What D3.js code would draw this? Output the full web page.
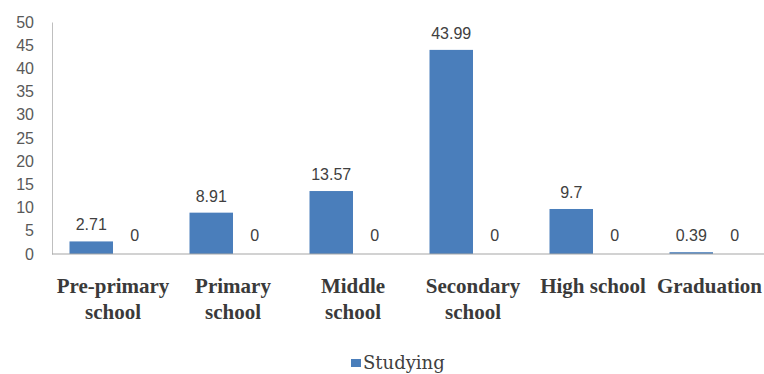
<!DOCTYPE html>
<html><head><meta charset="utf-8">
<script src="https://cdn.jsdelivr.net/npm/d3@7"></script>
<style>html,body{margin:0;padding:0;background:#fff;overflow:hidden}</style>
</head><body>
<svg id="chart" width="764" height="374"></svg>
<script>
const categories = ["Pre-primary school","Primary school","Middle school","Secondary school","High school","Graduation"];
const categoryLines = [["Pre-primary","school"],["Primary","school"],["Middle","school"],["Secondary","school"],["High school"],["Graduation"]];
const studying = [2.71, 8.91, 13.57, 43.99, 9.7, 0.39];
const second = [0, 0, 0, 0, 0, 0];
const yTicks = [0,5,10,15,20,25,30,35,40,45,50];
const seriesNames = ["Studying"];

const W = 764;
const svg = d3.select("#chart");
const x0 = d3.scaleBand().domain(categories).range([53, 773]).paddingInner(0.275).paddingOuter(0.1375);
const x1 = d3.scaleBand().domain(["a","b"]).range([0, x0.bandwidth()]);
const y = d3.scaleLinear().domain([0,50]).range([254, 22]);

// y axis
const yAxis = svg.append("g").attr("transform","translate(52,0)")
  .call(d3.axisLeft(y).tickValues(yTicks).tickSize(0).tickPadding(18));
yAxis.select(".domain").attr("stroke","#bfbfbf");
yAxis.selectAll("text").attr("font-family","Liberation Sans, Arial, sans-serif").attr("font-size",16).attr("fill","#595959");

// bars
const g = svg.append("g");
g.selectAll("rect.s").data(studying).join("rect")
  .attr("x",(d,i)=>x0(categories[i])+x1("a"))
  .attr("y",d=>y(d)).attr("width",x1.bandwidth()).attr("height",d=>y(0)-y(d))
  .attr("fill","#4a7ebb");
g.selectAll("rect.z").data(second).join("rect")
  .attr("x",(d,i)=>x0(categories[i])+x1("b"))
  .attr("y",d=>y(d)).attr("width",x1.bandwidth()).attr("height",d=>y(0)-y(d))
  .attr("fill","#c0504d");

// baseline
svg.append("line").attr("x1",52).attr("x2",780).attr("y1",y(0)).attr("y2",y(0)).attr("stroke","#a6a6a6").attr("stroke-width",1.2);

// value labels
const lab = svg.append("g").attr("font-family","Liberation Sans, Arial, sans-serif").attr("font-size",16).attr("fill","#404040").attr("text-anchor","middle");
lab.selectAll("text.s").data(studying).join("text")
  .attr("x",(d,i)=>x0(categories[i])+x1("a")+x1.bandwidth()/2)
  .attr("y",d=>y(d)-11).text(d=>d);
lab.selectAll("text.z").data(second).join("text")
  .attr("x",(d,i)=>x0(categories[i])+x1("b")+x1.bandwidth()/2)
  .attr("y",d=>y(d)-13).text(d=>d);

// category labels
const cl = svg.append("g").attr("font-family","Liberation Serif, Times New Roman, serif").attr("font-weight","bold").attr("font-size",21).attr("fill","#3a3a3a").attr("text-anchor","middle");
categoryLines.forEach((lines,i)=>{
  const cx = x0(categories[i])+x0.bandwidth()/2;
  const t = cl.append("text").attr("x",cx).attr("y",293);
  lines.forEach((ln,j)=>{
    const ts = t.append("tspan").attr("x",cx).attr("dy",j?26:0).text(ln);
    const w = ts.node().getComputedTextLength();
    if (cx + w/2 > W - 2) ts.attr("x", W - 2 - w/2);
  });
});

// legend
const lg = svg.append("g");
lg.append("rect").attr("x",351).attr("y",359).attr("width",10).attr("height",8).attr("fill","#4a7ebb");
lg.append("text").attr("x",363).attr("y",369).attr("font-family","DejaVu Serif, serif").attr("font-size",18).attr("fill","#404040").text(seriesNames[0]);
</script>
</body></html>
